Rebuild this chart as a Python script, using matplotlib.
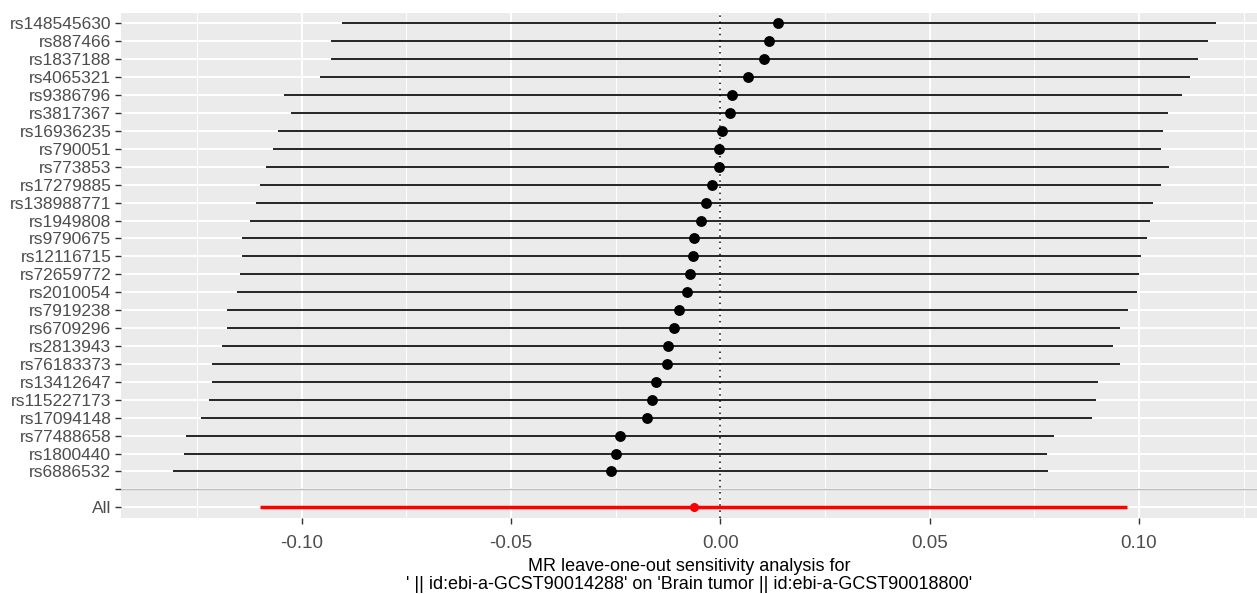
import matplotlib
matplotlib.use("Agg")
import matplotlib.pyplot as plt
import numpy as np

plt.rcParams['font.family'] = ['Liberation Sans', 'DejaVu Sans']

snps = ["rs148545630", "rs887466", "rs1837188", "rs4065321", "rs9386796", "rs3817367",
        "rs16936235", "rs790051", "rs773853", "rs17279885", "rs138988771", "rs1949808",
        "rs9790675", "rs12116715", "rs72659772", "rs2010054", "rs7919238", "rs6709296",
        "rs2813943", "rs76183373", "rs13412647", "rs115227173", "rs17094148",
        "rs77488658", "rs1800440", "rs6886532"]
b = [0.0138, 0.0117, 0.0105, 0.0067, 0.0029, 0.0023, 0.0004, -0.0003, -0.0003, -0.0020,
     -0.0035, -0.0045, -0.0063, -0.0066, -0.0071, -0.0079, -0.0098, -0.0111, -0.0125,
     -0.0128, -0.0154, -0.0164, -0.0176, -0.0239, -0.0248, -0.0262]
lo = [-0.0904, -0.0930, -0.0930, -0.0956, -0.1043, -0.1026, -0.1055, -0.1067, -0.1084,
      -0.1098, -0.1108, -0.1124, -0.1141, -0.1141, -0.1146, -0.1155, -0.1179, -0.1179,
      -0.1191, -0.1213, -0.1213, -0.1222, -0.1241, -0.1275, -0.1280, -0.1306]
up = [0.1184, 0.1165, 0.1141, 0.1122, 0.1103, 0.1069, 0.1057, 0.1053, 0.1072, 0.1053,
      0.1033, 0.1026, 0.1019, 0.1005, 0.1000, 0.0995, 0.0974, 0.0955, 0.0938, 0.0955,
      0.0902, 0.0897, 0.0888, 0.0797, 0.0780, 0.0783]
all_b, all_lo, all_up = -0.0063, -0.1098, 0.0971

xticks = [-0.10, -0.05, 0.00, 0.05, 0.10]
xticklabels = ["-0.10", "-0.05", "0.00", "0.05", "0.10"]
xlabel = "MR leave-one-out sensitivity analysis for\n' || id:ebi-a-GCST90014288' on 'Brain tumor || id:ebi-a-GCST90018800'"

fig = plt.figure(figsize=(12.57, 5.94), dpi=100)
ax = fig.add_axes([0.0963, 0.1279, 0.9037, 0.8507])
ax.set_facecolor('#EBEBEB')
for s in ax.spines.values():
    s.set_visible(False)

labels = ["All", ""] + snps[::-1]
ypos = np.arange(1, len(labels) + 1)
ysnp = ypos[2:][::-1]

ax.set_xlim(-0.1431, 0.1282)
ax.set_ylim(0.4, len(labels) + 0.6)
ax.set_xticks(xticks)
ax.set_xticks([-0.125, -0.075, -0.025, 0.025, 0.075, 0.125], minor=True)
ax.set_yticks(ypos)
ax.set_yticklabels(labels)
ax.set_xticklabels(xticklabels)
ax.grid(which='major', color='white', linewidth=1.4, zorder=0)
ax.grid(which='minor', axis='x', color='white', linewidth=0.7, zorder=0)
ax.set_axisbelow(True)
ax.tick_params(axis='both', which='major', length=4, width=1.0, color='#333333',
               labelcolor='#4D4D4D')
ax.tick_params(axis='y', labelsize=12.5, pad=3)
ax.tick_params(axis='x', labelsize=13.5, pad=8.5)
ax.tick_params(which='minor', length=0)

ax.axhline(2, color='#BEBEBE', linewidth=1.0, zorder=1)
ax.axvline(0, color='black', linestyle=(0, (1, 3)), linewidth=1.1, zorder=2)

ax.hlines(ysnp, lo, up, color='black', linewidth=1.2, zorder=3)
ax.plot(b, ysnp, 'o', color='black', markersize=6.8, zorder=4)
ax.hlines([1], [all_lo], [all_up], color='#FF0000', linewidth=2.5, zorder=3)
ax.plot([all_b], [1], 'o', color='#FF0000', markersize=5.5, zorder=4)

ax.set_xlabel(xlabel, fontsize=13, color='black', labelpad=4, linespacing=1.05)

fig.savefig("out.png", dpi=100)
